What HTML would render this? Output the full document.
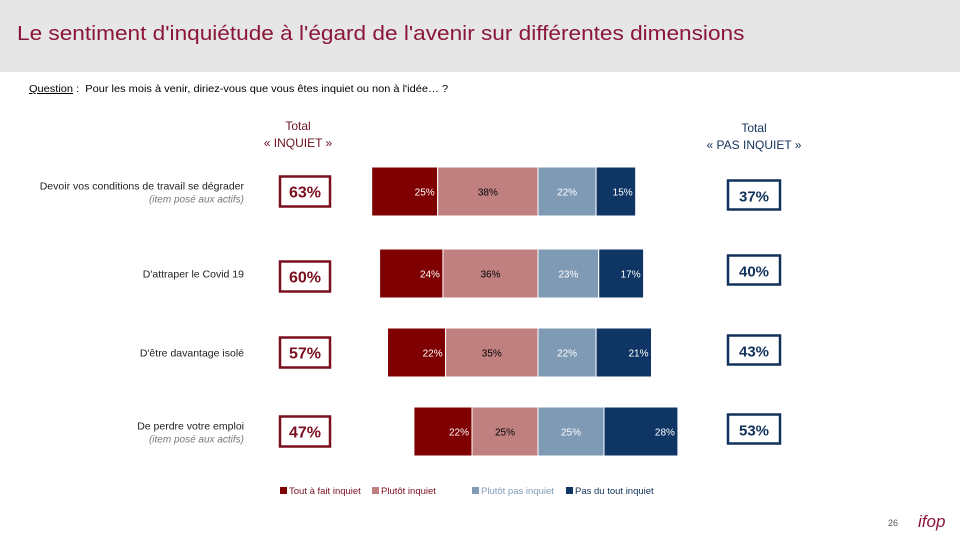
<!DOCTYPE html>
<html><head><meta charset="utf-8"><style>
body{margin:0;width:960px;height:540px;overflow:hidden;background:#fff;font-family:"Liberation Sans",sans-serif;position:relative}
.abs{position:absolute}
</style></head><body>
<div class="abs" style="left:0;top:0;width:960px;height:72px;background:#e6e6e6"></div>
<div class="abs" style="left:17px;top:23px;font-size:20px;color:#8b1538;white-space:nowrap;transform:scaleX(1.13);transform-origin:left top">Le sentiment d'inquiétude à l'égard de l'avenir sur différentes dimensions</div>
<div class="abs" style="left:29px;top:84px;font-size:10px;color:#000;white-space:nowrap;transform:scaleX(1.1);transform-origin:left top"><u>Question</u> :&nbsp; Pour les mois à venir, diriez-vous que vous êtes inquiet ou non à l'idée… ?</div>
<div class="abs" style="left:248px;top:118px;width:100px;text-align:center;font-size:12px;line-height:17px;color:#6b0f1f">Total<br>« INQUIET »</div>
<div class="abs" style="left:704px;top:120px;width:100px;text-align:center;font-size:12px;line-height:17px;color:#10325a">Total<br>« PAS INQUIET »</div>
<svg class="abs" style="left:0;top:0" width="960" height="540" id="chart"></svg>
<div class="abs" style="left:888px;top:518px;font-size:9px;color:#555">26</div>
<div class="abs" style="left:918px;top:512px;font-size:17px;color:#8b1538;font-style:italic">ifop</div>
<script>
const categories=["Devoir vos conditions de travail se dégrader","D'attraper le Covid 19","D'être davantage isolé","De perdre votre emploi"];
const subLabels=["(item posé aux actifs)","","","(item posé aux actifs)"];
const toutAFait=[25,24,22,22];
const plutot=[38,36,35,25];
const plutotPas=[22,23,22,25];
const pasDuTout=[15,17,21,28];
const totalInquiet=[63,60,57,47];
const totalPas=[37,40,43,53];
const seriesNames=["Tout à fait inquiet","Plutôt inquiet","Plutôt pas inquiet","Pas du tout inquiet"];
const colors=["#7f0000","#c08080","#7f9ab5","#0e3564"];
const svg=document.getElementById('chart');
const NS="http://www.w3.org/2000/svg";
const cx=538, sc=2.64;
const rowTop=[167,249,328,407], bh=49;
const xs=v=>v*sc;
function mk(t,a){const e=document.createElementNS(NS,t);for(const k in a)e.setAttribute(k,a[k]);svg.appendChild(e);return e;}
function txt(x,y,s,a){const e=mk('text',Object.assign({x:x,y:y},a));e.textContent=s;return e;}
categories.forEach((c,i)=>{
  const y=rowTop[i];
  const segs=[
    {x:cx-xs(plutot[i])-xs(toutAFait[i]),w:xs(toutAFait[i]),v:toutAFait[i],k:0},
    {x:cx-xs(plutot[i]),w:xs(plutot[i]),v:plutot[i],k:1},
    {x:cx,w:xs(plutotPas[i]),v:plutotPas[i],k:2},
    {x:cx+xs(plutotPas[i]),w:xs(pasDuTout[i]),v:pasDuTout[i],k:3}];
  segs.forEach(s=>{
    const r=mk('rect',{x:s.x,y:y,width:s.w,height:bh,fill:colors[s.k],stroke:'#fff','stroke-width':1});
    
    
    const tx = s.k===1||s.k===2 ? s.x+s.w/2 : s.x+s.w-3;
    const t=txt(tx,y+bh/2+4,s.v+'%',{'font-size':10,'text-anchor':(s.k===1||s.k===2)?'middle':'end',fill:s.k===1?'#000':'#fff','font-family':'Liberation Sans, sans-serif'});
    
    
  });
  const cy=y+bh/2;
  const l=txt(244,subLabels[i]?cy-2:cy+4,c,{'font-size':10.5,'text-anchor':'end',fill:'#222','textLength':null});
  l.removeAttribute('textLength');
  
  
  if(subLabels[i]){const s=txt(244,cy+11,subLabels[i],{'font-size':10,'text-anchor':'end',fill:'#777','font-style':'italic'});
    
    }
  const lb=mk('rect',{x:280,y:cy-15+(i===1?3:0),width:50,height:30,fill:'#fff',stroke:'#7a0f1f','stroke-width':2.5});
  
  
  const lt=txt(305,cy+6+(i===1?3:0),totalInquiet[i]+'%',{'font-size':16,'font-weight':'bold','text-anchor':'middle',fill:'#7a0f1f'});
  
  
  const ry=cy-15+(i===0?4:(i===1?-3:-2));
  const rb=mk('rect',{x:728,y:ry,width:52,height:29,fill:'#fff',stroke:'#10325a','stroke-width':2.5});
  
  
  const rt=txt(754,ry+21,totalPas[i]+'%',{'font-size':15,'font-weight':'bold','text-anchor':'middle',fill:'#10325a'});
  
  
});
const legX=[280,372,472,566];
seriesNames.forEach((n,k)=>{
  const r=mk('rect',{x:legX[k],y:487,width:7,height:7,fill:colors[k]});
  
  
  const t=txt(legX[k]+9,494,n,{'font-size':9.5,fill:k===3?'#10325a':(k===2?'#7f9ab5':'#7a0f1f')});
  
  
});
</script>
</body></html>
